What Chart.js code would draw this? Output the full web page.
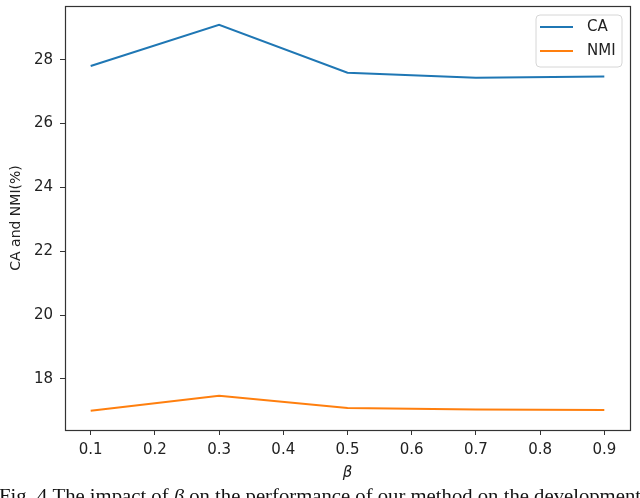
<!DOCTYPE html>
<html>
<head>
<meta charset="utf-8">
<script src="https://cdn.jsdelivr.net/npm/chart.js@4"></script>
<style>
html,body{margin:0;padding:0;background:#fff;}
#wrap{width:640px;height:498px;position:relative;}
</style>
</head>
<body>
<div id="wrap"><canvas id="c" width="640" height="498"></canvas></div>
<script>
const betaValues = [0.1, 0.3, 0.5, 0.7, 0.9];
const caValues = [27.80, 29.09, 27.59, 27.43, 27.47];
const nmiValues = [17.00, 17.47, 17.09, 17.04, 17.03];
const xTickValues = [0.1, 0.2, 0.3, 0.4, 0.5, 0.6, 0.7, 0.8, 0.9];
const yTickValues = [18, 20, 22, 24, 26, 28];
const seriesNames = ['CA', 'NMI'];
const seriesColors = ['#1f77b4', '#ff7f0e'];
const yTitle = 'CA and NMI(%)';
const xTitle = 'β';
const captionParts = ['Fig. 4 The impact of ', 'β', ' on the performance of our method on the development'];

const FONT = 'DejaVu Sans';

const framePlugin = {
  id: 'frame',
  afterDraw(chart) {
    const {ctx, chartArea: a} = chart;
    ctx.save();
    ctx.strokeStyle = '#333';
    ctx.lineWidth = 1.2;
    ctx.strokeRect(Math.round(a.left) + 0.5, Math.round(a.top) + 0.5, Math.round(a.right - a.left), Math.round(a.bottom - a.top));
    // legend
    const lx = 536, ly = 15, lw = 86, lh = 52, r = 4;
    ctx.beginPath();
    ctx.moveTo(lx + r, ly);
    ctx.arcTo(lx + lw, ly, lx + lw, ly + lh, r);
    ctx.arcTo(lx + lw, ly + lh, lx, ly + lh, r);
    ctx.arcTo(lx, ly + lh, lx, ly, r);
    ctx.arcTo(lx, ly, lx + lw, ly, r);
    ctx.closePath();
    ctx.fillStyle = 'rgba(255,255,255,0.85)';
    ctx.fill();
    ctx.strokeStyle = '#d6d6d6';
    ctx.lineWidth = 1;
    ctx.stroke();
    ctx.font = '15px "' + FONT + '"';
    ctx.textBaseline = 'middle';
    ctx.fillStyle = '#222';
    chart.data.datasets.forEach((ds, i) => {
      const y = 27 + i * 24;
      ctx.strokeStyle = ds.borderColor;
      ctx.lineWidth = 2;
      ctx.beginPath();
      ctx.moveTo(540, y);
      ctx.lineTo(573, y);
      ctx.stroke();
      ctx.fillText(ds.label, 587, y);
    });
    // caption
    const size = 19;
    const normal = size + 'px "Liberation Serif"';
    const italic = 'italic ' + size + 'px "Liberation Serif"';
    const fonts = [normal, italic, normal];
    let total = 0;
    captionParts.forEach((p, i) => { ctx.font = fonts[i]; total += ctx.measureText(p).width; });
    const scale = 642 / total;
    ctx.save();
    ctx.translate(-1, 502);
    ctx.scale(scale, 1);
    ctx.textBaseline = 'alphabetic';
    ctx.fillStyle = '#111';
    let x = 0;
    captionParts.forEach((p, i) => { ctx.font = fonts[i]; ctx.fillText(p, x, 0); x += ctx.measureText(p).width; });
    ctx.restore();
    ctx.restore();
  }
};

new Chart(document.getElementById('c'), {
  type: 'line',
  data: {
    datasets: [
      { label: seriesNames[0], data: betaValues.map((b, i) => ({x: b, y: caValues[i]})), borderColor: seriesColors[0], backgroundColor: seriesColors[0], borderWidth: 2, pointRadius: 0, tension: 0, fill: false },
      { label: seriesNames[1], data: betaValues.map((b, i) => ({x: b, y: nmiValues[i]})), borderColor: seriesColors[1], backgroundColor: seriesColors[1], borderWidth: 2, pointRadius: 0, tension: 0, fill: false }
    ]
  },
  options: {
    responsive: false,
    animation: false,
    devicePixelRatio: 1,
    layout: { padding: { left: 8, right: 10, top: 6, bottom: 16 } },
    plugins: { legend: { display: false }, tooltip: { enabled: false } },
    scales: {
      x: {
        type: 'linear',
        min: 0.06, max: 0.94,
        afterBuildTicks: s => { s.ticks = xTickValues.map(v => ({value: v})); },
        afterFit: s => { s.height = 52; s.paddingLeft = 0; s.paddingRight = 0; },
        ticks: { callback: v => Number(v).toFixed(1), font: { family: FONT, size: 15 }, color: '#222', padding: 6, maxRotation: 0, autoSkip: false },
        grid: { drawOnChartArea: false, drawTicks: true, tickLength: 5, color: '#333' },
        border: { display: false },
        title: { display: true, text: xTitle, font: { family: FONT, size: 15, style: 'italic' }, color: '#222', padding: 0 }
      },
      y: {
        type: 'linear',
        min: 16.4, max: 29.68,
        afterBuildTicks: s => { s.ticks = yTickValues.map(v => ({value: v})); },
        afterFit: s => { s.width = 57; s.paddingTop = 0; s.paddingBottom = 0; },
        ticks: { callback: v => String(v), font: { family: FONT, size: 15 }, color: '#222', padding: 7, autoSkip: false },
        grid: { drawOnChartArea: false, drawTicks: true, tickLength: 5, color: '#333' },
        border: { display: false },
        title: { display: true, text: yTitle, font: { family: FONT, size: 14 }, color: '#222', padding: 0 }
      }
    }
  },
  plugins: [framePlugin]
});
</script>
</body>
</html>
